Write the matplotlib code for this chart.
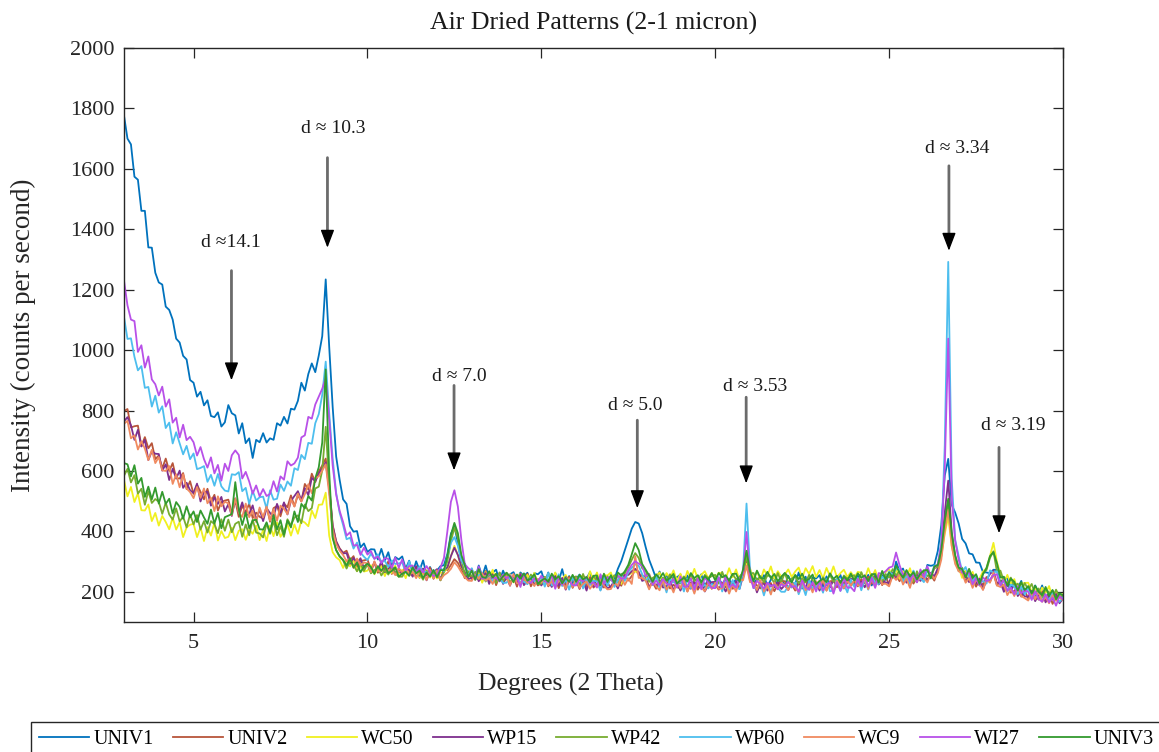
import numpy as np
import matplotlib
matplotlib.use("Agg")
import matplotlib.pyplot as plt

plt.rcParams["font.family"] = ["Liberation Serif", "DejaVu Serif"]

# Scan axis: 2-theta from 3 to 30 degrees in 0.1 degree steps
two_theta = np.round(np.linspace(3.0, 30.0, 271), 1)

univ1 = [
    1776, 1700, 1681, 1574, 1564, 1461, 1461, 1340, 1339, 1256,
    1224, 1217, 1144, 1133, 1101, 1038, 1025, 981, 969, 901,
    892, 846, 862, 817, 834, 782, 778, 794, 747, 761,
    818, 791, 784, 724, 758, 692, 708, 643, 703, 695,
    725, 694, 708, 703, 758, 750, 779, 757, 806, 803,
    832, 892, 866, 921, 956, 927, 982, 1046, 1234, 1012,
    812, 648, 571, 506, 491, 417, 399, 401, 347, 360,
    332, 341, 340, 307, 342, 304, 331, 283, 315, 307,
    317, 276, 303, 262, 301, 271, 304, 257, 282, 258,
    270, 285, 288, 326, 392, 417, 362, 301, 293, 253,
    275, 244, 287, 251, 287, 244, 264, 273, 235, 270,
    242, 258, 265, 240, 264, 252, 263, 224, 262, 258,
    268, 232, 264, 227, 262, 235, 275, 228, 252, 228,
    242, 257, 229, 244, 265, 228, 250, 246, 254, 235,
    249, 241, 276, 302, 337, 373, 409, 431, 426, 394,
    348, 306, 276, 244, 267, 231, 259, 216, 249, 248,
    257, 221, 254, 217, 240, 239, 258, 216, 245, 225,
    230, 244, 226, 242, 240, 225, 242, 236, 262, 305,
    256, 221, 244, 237, 255, 218, 240, 249, 213, 248,
    220, 253, 230, 226, 264, 224, 250, 207, 247, 244,
    255, 216, 251, 216, 240, 237, 256, 216, 248, 228,
    223, 255, 218, 234, 256, 221, 255, 229, 256, 239,
    253, 245, 300, 268, 277, 238, 239, 268, 232, 266,
    243, 289, 286, 289, 335, 420, 585, 640, 488, 462,
    426, 375, 360, 327, 324, 297, 296, 265, 264, 261,
    273, 272, 229, 247, 244, 210, 233, 212, 236, 196,
    217, 188, 221, 191, 221, 183, 195, 204, 178, 194,
    181,
]

univ2 = [
    798, 805, 744, 748, 750, 682, 712, 675, 692, 639,
    651, 609, 641, 600, 626, 576, 575, 593, 540, 566,
    524, 554, 531, 506, 541, 499, 521, 469, 497, 502,
    505, 460, 502, 448, 485, 463, 492, 444, 462, 448,
    443, 483, 432, 477, 484, 450, 492, 480, 519, 483,
    520, 499, 557, 539, 591, 563, 598, 618, 641, 553,
    421, 368, 344, 329, 336, 305, 318, 282, 302, 304,
    307, 274, 296, 263, 296, 273, 301, 259, 281, 261,
    266, 282, 254, 270, 281, 246, 275, 255, 280, 243,
    266, 238, 276, 272, 289, 308, 296, 274, 245, 261,
    242, 259, 256, 234, 269, 236, 262, 222, 253, 251,
    261, 226, 250, 217, 252, 229, 260, 218, 242, 221,
    228, 245, 218, 235, 247, 212, 243, 223, 250, 213,
    237, 209, 244, 216, 249, 214, 227, 238, 214, 230,
    213, 233, 231, 220, 256, 237, 252, 271, 258, 254,
    250, 216, 231, 210, 233, 222, 241, 211, 223, 215,
    212, 240, 201, 230, 230, 207, 226, 218, 235, 210,
    224, 207, 230, 214, 235, 210, 216, 241, 245, 302,
    239, 234, 221, 211, 235, 215, 229, 202, 224, 235,
    235, 213, 225, 204, 228, 219, 239, 211, 223, 217,
    212, 242, 204, 235, 236, 215, 234, 228, 244, 220,
    233, 218, 242, 228, 250, 227, 231, 256, 222, 251,
    224, 256, 254, 235, 259, 238, 252, 227, 247, 259,
    259, 239, 255, 237, 271, 318, 421, 502, 366, 301,
    276, 268, 235, 248, 249, 217, 238, 222, 249, 232,
    261, 221, 237, 210, 232, 197, 203, 216, 184, 204,
    178, 201, 190, 174, 202, 175, 194, 160, 184, 188,
    179,
]

wc50 = [
    570, 516, 547, 497, 526, 470, 469, 489, 434, 461,
    419, 451, 431, 407, 445, 406, 431, 381, 413, 422,
    425, 381, 413, 368, 414, 386, 429, 370, 401, 378,
    382, 412, 371, 402, 407, 372, 406, 392, 419, 371,
    405, 368, 419, 384, 430, 382, 401, 423, 386, 423,
    392, 436, 429, 417, 469, 444, 488, 489, 528, 386,
    331, 314, 305, 279, 305, 284, 306, 268, 283, 267,
    270, 288, 258, 277, 286, 252, 281, 262, 287, 251,
    273, 245, 279, 252, 283, 247, 261, 272, 247, 263,
    244, 264, 264, 278, 318, 352, 321, 281, 266, 265,
    273, 239, 263, 230, 265, 242, 273, 231, 254, 235,
    241, 258, 231, 249, 260, 226, 256, 237, 263, 227,
    251, 224, 260, 232, 264, 228, 244, 256, 233, 250,
    233, 253, 251, 232, 268, 238, 264, 225, 255, 254,
    264, 231, 256, 226, 263, 256, 262, 268, 263, 244,
    240, 259, 233, 252, 264, 231, 262, 244, 271, 236,
    260, 232, 269, 243, 276, 241, 256, 268, 245, 262,
    243, 263, 261, 242, 278, 248, 274, 237, 268, 292,
    278, 244, 268, 238, 274, 253, 284, 244, 268, 250,
    257, 274, 249, 267, 280, 246, 278, 259, 285, 249,
    272, 244, 279, 252, 284, 248, 262, 273, 249, 265,
    247, 266, 263, 243, 278, 247, 272, 234, 264, 265,
    275, 251, 275, 243, 268, 248, 278, 237, 260, 243,
    249, 276, 248, 277, 283, 319, 392, 448, 352, 298,
    281, 246, 269, 243, 266, 233, 244, 267, 278, 318,
    362, 299, 258, 231, 256, 225, 242, 205, 227, 229,
    230, 199, 215, 186, 214, 196, 219, 182, 198, 184,
    193,
]

wp15 = [
    764, 778, 751, 703, 736, 681, 703, 636, 665, 657,
    656, 601, 622, 570, 607, 575, 601, 544, 561, 536,
    527, 558, 499, 531, 531, 485, 513, 491, 514, 466,
    490, 451, 509, 462, 496, 453, 458, 486, 436, 473,
    434, 476, 461, 448, 491, 462, 496, 456, 501, 517,
    533, 503, 543, 520, 577, 566, 591, 609, 628, 541,
    418, 366, 342, 327, 328, 293, 312, 294, 311, 278,
    293, 266, 299, 271, 301, 265, 277, 287, 261, 277,
    257, 276, 272, 250, 285, 253, 277, 238, 267, 265,
    275, 241, 271, 281, 318, 346, 322, 284, 264, 242,
    246, 262, 235, 251, 262, 226, 257, 236, 263, 226,
    249, 220, 255, 227, 259, 222, 237, 247, 224, 239,
    221, 240, 237, 216, 252, 220, 246, 207, 238, 236,
    247, 213, 237, 204, 240, 217, 248, 206, 230, 211,
    218, 236, 211, 242, 256, 256, 268, 276, 266, 236,
    241, 212, 236, 219, 239, 214, 217, 239, 204, 231,
    204, 234, 219, 210, 234, 214, 228, 201, 222, 232,
    233, 210, 222, 201, 225, 214, 236, 210, 252, 331,
    241, 236, 198, 227, 227, 204, 223, 215, 233, 209,
    222, 206, 229, 213, 234, 211, 215, 239, 204, 233,
    204, 236, 222, 215, 240, 222, 236, 211, 231, 243,
    242, 221, 234, 215, 240, 231, 251, 224, 237, 231,
    229, 263, 244, 259, 255, 230, 248, 243, 258, 236,
    249, 236, 263, 251, 278, 331, 462, 568, 398, 318,
    276, 274, 254, 232, 256, 227, 243, 208, 239, 259,
    270, 229, 233, 200, 224, 203, 225, 186, 200, 185,
    183, 203, 169, 190, 195, 165, 188, 174, 193, 162,
    178,
]

wp42 = [
    584, 607, 562, 586, 525, 541, 488, 533, 494, 507,
    498, 458, 495, 456, 439, 476, 433, 449, 413, 456,
    423, 454, 406, 434, 396, 434, 424, 394, 440, 402,
    439, 397, 425, 432, 382, 423, 387, 439, 396, 393,
    380, 426, 392, 435, 387, 417, 382, 440, 420, 446,
    453, 427, 489, 467, 477, 542, 548, 602, 746, 553,
    382, 338, 316, 304, 277, 302, 288, 268, 293, 269,
    291, 261, 272, 280, 254, 272, 257, 282, 261, 250,
    250, 271, 257, 276, 251, 260, 240, 269, 255, 262,
    266, 238, 266, 302, 368, 412, 378, 311, 251, 268,
    251, 266, 242, 255, 234, 256, 253, 229, 264, 234,
    263, 231, 245, 252, 228, 246, 232, 257, 238, 226,
    227, 250, 237, 255, 231, 242, 223, 250, 238, 246,
    251, 221, 259, 230, 231, 253, 235, 240, 225, 251,
    238, 255, 232, 259, 262, 281, 306, 328, 312, 278,
    270, 233, 246, 253, 229, 247, 233, 258, 239, 227,
    228, 251, 238, 257, 235, 245, 227, 256, 245, 252,
    256, 227, 266, 236, 237, 259, 241, 250, 264, 318,
    261, 262, 238, 252, 231, 254, 251, 227, 262, 233,
    262, 230, 244, 251, 227, 245, 231, 256, 237, 225,
    226, 248, 236, 256, 233, 243, 225, 254, 243, 250,
    255, 226, 265, 235, 236, 258, 240, 248, 234, 259,
    247, 275, 254, 269, 235, 260, 257, 233, 268, 243,
    271, 252, 257, 279, 282, 326, 418, 486, 378, 312,
    268, 280, 252, 271, 236, 248, 221, 261, 272, 312,
    334, 267, 270, 235, 224, 247, 219, 227, 202, 229,
    207, 226, 193, 211, 182, 209, 198, 179, 207, 183,
    190,
]

wp60 = [
    1110, 1037, 1039, 978, 933, 947, 875, 878, 813, 849,
    793, 814, 742, 760, 691, 728, 692, 655, 683, 639,
    658, 606, 610, 616, 564, 587, 551, 590, 549, 535,
    532, 589, 587, 596, 533, 544, 491, 534, 502, 513,
    515, 475, 536, 505, 508, 555, 534, 565, 551, 609,
    603, 653, 639, 693, 690, 758, 788, 852, 962, 792,
    641, 528, 462, 421, 374, 379, 343, 363, 330, 316,
    305, 326, 309, 324, 298, 302, 282, 304, 292, 294,
    297, 263, 301, 265, 266, 284, 265, 266, 252, 271,
    263, 279, 268, 318, 362, 381, 352, 304, 286, 251,
    278, 241, 256, 256, 237, 248, 236, 257, 246, 229,
    230, 248, 242, 252, 230, 234, 225, 249, 235, 236,
    248, 217, 262, 221, 224, 258, 219, 241, 207, 248,
    224, 255, 211, 241, 222, 237, 234, 204, 250, 220,
    249, 216, 237, 257, 236, 266, 279, 291, 286, 258,
    235, 250, 222, 254, 211, 236, 198, 242, 231, 231,
    238, 201, 244, 212, 220, 228, 215, 223, 211, 226,
    217, 248, 201, 234, 200, 239, 214, 209, 268, 492,
    274, 213, 210, 230, 188, 228, 200, 227, 213, 200,
    200, 219, 214, 231, 192, 223, 189, 237, 211, 216,
    228, 197, 242, 202, 204, 243, 203, 225, 198, 241,
    216, 246, 205, 242, 207, 249, 231, 226, 250, 240,
    267, 256, 276, 275, 233, 251, 226, 270, 237, 245,
    232, 273, 250, 287, 289, 362, 684, 1292, 574, 372,
    318, 267, 282, 247, 234, 257, 227, 236, 227, 271,
    263, 268, 223, 236, 202, 224, 218, 192, 217, 191,
    212, 181, 192, 198, 171, 189, 172, 198, 177, 167,
    181,
]

wc9 = [
    756, 766, 708, 718, 671, 698, 674, 636, 670, 626,
    646, 602, 600, 616, 557, 589, 546, 589, 542, 530,
    510, 547, 511, 542, 493, 511, 467, 516, 483, 498,
    493, 454, 509, 462, 448, 492, 447, 469, 431, 479,
    446, 482, 435, 473, 435, 485, 475, 457, 507, 482,
    525, 499, 523, 556, 526, 576, 582, 601, 622, 524,
    406, 358, 336, 322, 301, 310, 279, 310, 288, 297,
    294, 265, 301, 269, 267, 287, 267, 272, 255, 278,
    264, 279, 254, 267, 245, 268, 264, 239, 273, 244,
    271, 240, 255, 263, 276, 298, 284, 265, 248, 237,
    236, 257, 243, 262, 237, 246, 226, 254, 241, 247,
    251, 221, 259, 228, 227, 248, 229, 235, 219, 243,
    230, 246, 221, 235, 214, 237, 234, 210, 245, 216,
    245, 213, 227, 234, 210, 228, 214, 239, 220, 208,
    209, 231, 219, 248, 223, 244, 226, 318, 246, 246,
    237, 208, 236, 218, 205, 238, 207, 225, 198, 233,
    211, 238, 201, 227, 194, 229, 214, 202, 228, 211,
    230, 210, 211, 230, 194, 224, 201, 241, 238, 286,
    232, 230, 206, 238, 201, 222, 191, 231, 210, 229,
    223, 206, 231, 212, 200, 235, 205, 225, 198, 235,
    211, 240, 204, 232, 200, 237, 222, 212, 236, 221,
    239, 221, 223, 244, 209, 241, 216, 255, 225, 227,
    218, 253, 239, 259, 224, 244, 213, 255, 232, 252,
    246, 231, 260, 243, 262, 306, 401, 472, 352, 292,
    268, 262, 230, 245, 213, 239, 226, 206, 241, 230,
    264, 221, 216, 224, 189, 209, 186, 214, 186, 179,
    171, 197, 175, 199, 167, 182, 162, 189, 170, 182,
    172,
]

wi27 = [
    1230, 1148, 1101, 1096, 994, 1016, 942, 979, 903, 887,
    850, 879, 813, 837, 760, 776, 711, 753, 702, 713,
    695, 651, 679, 639, 611, 645, 592, 620, 568, 624,
    600, 652, 668, 653, 575, 597, 565, 525, 552, 516,
    540, 517, 524, 566, 532, 582, 571, 632, 618, 625,
    644, 711, 718, 779, 773, 820, 846, 872, 908, 771,
    618, 522, 468, 431, 386, 397, 353, 355, 322, 346,
    323, 335, 309, 317, 295, 312, 309, 279, 313, 280,
    307, 271, 285, 287, 265, 277, 264, 285, 266, 252,
    258, 280, 312, 402, 498, 536, 482, 372, 291, 278,
    270, 240, 284, 243, 246, 262, 246, 246, 234, 257,
    244, 255, 239, 249, 216, 258, 238, 229, 245, 234,
    253, 236, 230, 253, 210, 250, 223, 248, 235, 222,
    221, 240, 235, 250, 228, 231, 215, 258, 226, 248,
    241, 227, 254, 243, 246, 272, 289, 301, 293, 287,
    251, 259, 223, 237, 222, 243, 227, 223, 244, 214,
    251, 217, 217, 245, 207, 245, 208, 248, 229, 213,
    212, 248, 214, 252, 215, 224, 214, 243, 261, 398,
    252, 212, 236, 225, 210, 230, 219, 223, 208, 225,
    218, 233, 216, 219, 201, 237, 215, 207, 232, 201,
    236, 204, 225, 230, 194, 232, 203, 248, 213, 215,
    202, 243, 217, 255, 217, 246, 213, 262, 259, 268,
    280, 284, 330, 288, 256, 268, 236, 260, 231, 274,
    249, 285, 249, 279, 292, 358, 610, 1038, 512, 368,
    306, 264, 260, 263, 225, 245, 221, 248, 235, 241,
    255, 258, 221, 241, 204, 214, 192, 218, 195, 205,
    200, 173, 202, 176, 167, 192, 165, 181, 154, 186,
    175,
]

univ3 = [
    626, 622, 582, 619, 558, 577, 514, 548, 506, 545,
    492, 531, 491, 508, 459, 497, 481, 442, 483, 447,
    466, 431, 469, 446, 425, 472, 426, 461, 410, 447,
    452, 457, 563, 472, 421, 463, 410, 436, 439, 407,
    406, 430, 396, 454, 406, 437, 389, 436, 413, 466,
    431, 491, 476, 517, 502, 576, 612, 694, 936, 598,
    378, 338, 318, 306, 287, 311, 280, 297, 264, 284,
    293, 282, 260, 285, 269, 287, 262, 269, 281, 250,
    260, 266, 253, 281, 261, 270, 245, 264, 250, 272,
    248, 272, 271, 318, 388, 428, 394, 322, 288, 249,
    270, 240, 275, 249, 246, 268, 247, 260, 236, 251,
    263, 251, 232, 257, 243, 261, 237, 244, 258, 226,
    237, 244, 233, 260, 241, 252, 228, 246, 233, 256,
    233, 256, 241, 249, 231, 253, 254, 222, 260, 233,
    255, 228, 264, 253, 268, 289, 324, 361, 338, 292,
    273, 254, 233, 258, 244, 262, 238, 245, 259, 227,
    238, 246, 234, 262, 245, 255, 232, 252, 240, 262,
    238, 262, 248, 255, 237, 259, 260, 233, 274, 336,
    268, 235, 270, 246, 243, 266, 245, 259, 235, 250,
    262, 250, 231, 256, 242, 260, 236, 243, 257, 225,
    236, 243, 232, 261, 243, 253, 230, 250, 238, 260,
    237, 261, 247, 254, 236, 258, 259, 230, 269, 241,
    264, 248, 287, 263, 247, 272, 251, 265, 241, 260,
    271, 272, 244, 284, 288, 338, 436, 508, 392, 321,
    280, 275, 248, 276, 246, 258, 226, 258, 279, 318,
    331, 295, 247, 250, 220, 243, 233, 204, 232, 206,
    219, 194, 220, 200, 189, 216, 187, 206, 175, 195,
    189,
]

sample_names = ["UNIV1", "UNIV2", "WC50", "WP15", "WP42",
                "WP60", "WC9", "WI27", "UNIV3"]
sample_data = [univ1, univ2, wc50, wp15, wp42, wp60, wc9, wi27, univ3]
sample_colors = ["#0072BD", "#B8553A", "#F0F020", "#7E2F8E", "#77AC30",
                 "#4DBEEE", "#F08A60", "#B850E8", "#339A2E"]

# Peak annotations: label, label position, arrow x, arrow tail y, arrow tip y
peak_labels = ["d \u2248" + "14.1", "d \u2248 10.3", "d \u2248 7.0", "d \u2248 5.0",
               "d \u2248 3.53", "d \u2248 3.34", "d \u2248 3.19"]
label_x = [6.06, 9.02, 12.64, 17.70, 21.14, 26.95, 28.56]
label_y = [1356, 1732, 913, 817, 880, 1666, 751]
arrow_x = [6.09, 8.85, 12.49, 17.76, 20.89, 26.72, 28.16]
arrow_tail = [1263, 1637, 883, 768, 844, 1610, 678]
arrow_tip = [900, 1339, 602, 477, 559, 1329, 394]
head_span = 55

W, H = 1159, 752
fig = plt.figure(figsize=(W / 100, H / 100), dpi=100)
ax = fig.add_axes([124 / W, 1 - 622 / H, (1063 - 124) / W, (622 - 48) / H])

for name, vals, color in zip(sample_names, sample_data, sample_colors):
    ax.plot(two_theta, vals, color=color, lw=1.3, label=name)

ax.set_xlim(3, 30)
ax.set_ylim(100, 2000)
ax.set_xticks([5, 10, 15, 20, 25, 30])
ax.set_yticks(range(200, 2001, 200))
ax.tick_params(direction="in", length=7, width=0.9, top=True, right=True,
               labelsize=16, color="0.15", labelcolor="0.15")
ax.tick_params(axis="x", pad=9)
ax.tick_params(axis="y", pad=7)
for spine in ax.spines.values():
    spine.set_color("0.15")
    spine.set_linewidth(1.0)

ax.set_title("Air Dried Patterns (2-1 micron)", fontsize=18.6, color="0.1",
             y=1.0436, va="center", pad=0)
ax.set_xlabel("Degrees (2 Theta)", fontsize=18.5, color="0.15")
ax.xaxis.set_label_coords(0.476, (622 - 684) / 574)
ax.xaxis.label.set_va("center")
ax.set_ylabel("Intensity (counts per second)", fontsize=19.5, color="0.15")
ax.yaxis.set_label_coords((23 - 124) / 939, 0.5)
ax.yaxis.label.set_va("center")

for txt, tx, ty, axp, tail, tip in zip(peak_labels, label_x, label_y,
                                       arrow_x, arrow_tail, arrow_tip):
    ax.text(tx, ty, txt, fontsize=14, ha="center", va="center", color="0.1")
    # grey shaft
    ax.annotate("", xy=(axp, tip + head_span - 5), xytext=(axp, tail),
                arrowprops=dict(arrowstyle="-", color="0.42", lw=2.0,
                                shrinkA=0, shrinkB=0))
    # black head
    ax.annotate("", xy=(axp, tip), xytext=(axp, tip + head_span),
                arrowprops=dict(arrowstyle="-|>,head_length=1.1,head_width=0.42",
                                color="black", lw=1.0, mutation_scale=10,
                                shrinkA=0, shrinkB=0))

fig.legend(loc="upper left", bbox_to_anchor=(31 / W, 1 - 722 / H), ncol=9,
           fontsize=14.5, frameon=True, fancybox=False, edgecolor="0.15",
           framealpha=1, borderaxespad=0, borderpad=0.4, handlelength=2.5,
           handletextpad=0.2, columnspacing=0.95)

fig.savefig("out.png", dpi=100, facecolor="white")
